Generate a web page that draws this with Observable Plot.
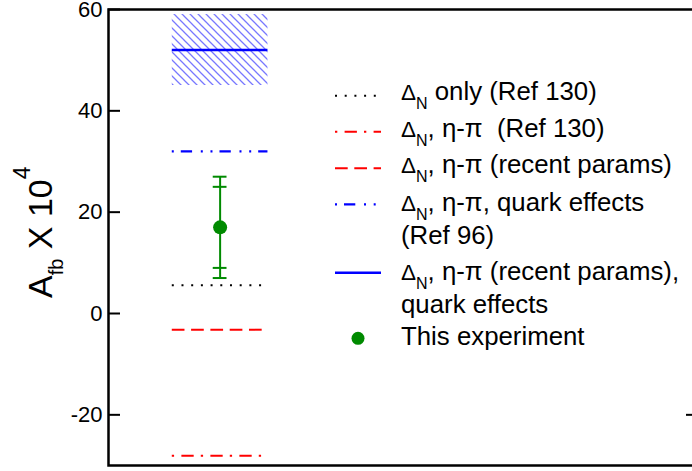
<!DOCTYPE html>
<html><head><meta charset="utf-8">
<script src="https://cdn.jsdelivr.net/npm/d3@7"></script>
<script src="https://cdn.jsdelivr.net/npm/@observablehq/plot@0.6"></script>
<style>
html,body{margin:0;padding:0;overflow:hidden;background:#fff;}
#chart{width:700px;height:471px;overflow:hidden}
#chart svg{display:block;overflow:visible;max-width:none !important;width:700px !important;height:471px !important}
</style></head><body><div id="chart"></div>
<script>
// ---- data ----
const yTicks = [-20, 0, 20, 40, 60];
const modelNames = ["ΔN only (Ref 130)", "ΔN, η-π (Ref 130)", "ΔN, η-π (recent params)", "ΔN, η-π, quark effects (Ref 96)", "ΔN, η-π (recent params), quark effects"];
const modelValues = [5.6, -28.1, -3.2, 32.0, 52.0];
const modelColors = ["#000000", "#ff0000", "#ff0000", "#0000ff", "#0000ff"];
const modelDashes = ["2 7.7", "2.3 7.3 12.3 7.1", "12.7 6.6", "2 7 11.3 8.7 2 7.7", null];
const modelWidths = [2, 2, 2, 2.3, 2.5];
const bandLow = 45, bandHigh = 59;          // hatched range around the last model
const expLabel = "This experiment";
const expValue = 17, expStat = 8, expTotal = 10;
const legendFirst = [" only (Ref 130)", ", η-π  (Ref 130)", ", η-π (recent params)", ", η-π, quark effects", ", η-π (recent params),"];
const legendSecond = [null, null, null, "(Ref 96)", "quark effects"];

const green = "#008a00";
const x0 = 1, hw = 0.5, cap = 0.072;
const W = 700, H = 471, mL = 108, mR = 2, mT = 9, mB = 6;
const plotW = W - mL - mR;
const font = "'Liberation Sans', Arial, Helvetica, sans-serif";
const lgSize = 25.8;

const plot = Plot.plot({
  width: W, height: H,
  marginLeft: mL, marginRight: mR, marginTop: mT, marginBottom: mB,
  x: {domain: [-1/6, 6], axis: null},
  y: {domain: [-30, 60], axis: null},
  style: {fontFamily: font, background: "white", color: "black"},
  marks: [
    Plot.rect([{lo: bandLow, hi: bandHigh}], {x1: x0 - hw, x2: x0 + hw, y1: "lo", y2: "hi", fill: "url(#hatch)"}),
    ...modelValues.map((v, i) => Plot.ruleY([v], {
      x1: x0 - hw, x2: x0 + hw, stroke: modelColors[i], strokeWidth: modelWidths[i],
      strokeDasharray: modelDashes[i]
    })),
    Plot.ruleX([x0], {y1: expValue - expTotal, y2: expValue + expTotal, stroke: green, strokeWidth: 2}),
    Plot.ruleY([expValue - expTotal, expValue - expStat, expValue + expStat, expValue + expTotal],
      {x1: x0 - cap, x2: x0 + cap, stroke: green, strokeWidth: 2}),
    Plot.dot([expValue], {x: d => x0, y: d => d, r: 7, fill: green}),
    Plot.frame({stroke: "black", strokeWidth: 2.5}),
    Plot.tickY(yTicks, {y: d => d, insetRight: plotW - 12, stroke: "black", strokeWidth: 2}),
    Plot.tickY([-20], {y: d => d, insetLeft: plotW - 12, stroke: "black", strokeWidth: 2}),
    Plot.axisY(yTicks, {tickSize: 0, tickPadding: 6, fontSize: 22, tickFormat: d => String(d)})
  ]
});

const svg = d3.select(plot);
const defs = svg.insert("defs", ":first-child");
const pat = defs.append("pattern").attr("id", "hatch")
  .attr("patternUnits", "userSpaceOnUse").attr("width", 8).attr("height", 8);
pat.append("path").attr("d", "M-2,-2L10,10M-2,6L2,10M6,-2L10,2")
  .attr("stroke", "#7878ff").attr("stroke-width", 1.3).attr("fill", "none");

// y-axis label
const yl = svg.append("text").attr("transform", "translate(52,298) rotate(-90)")
  .attr("font-family", font).attr("fill", "black").attr("text-anchor", "start");
yl.append("tspan").attr("font-size", 34).text("A");
yl.append("tspan").attr("font-size", 20).attr("dy", 11).text("fb");
yl.append("tspan").attr("font-size", 34).attr("dy", -11).text(" X 10");
yl.append("tspan").attr("font-size", 23).attr("dy", -22).text("4");

// legend
const sampleY = [95.7, 131.7, 168.3, 204.3, 272.7];
const baseY = [100, 136.7, 173.3, 211, 279.5];
const baseY2 = [null, null, null, 244, 312.5];
const lg = svg.append("g").attr("font-family", font).attr("fill", "black").attr("text-anchor", "start");
modelNames.forEach((name, i) => {
  const ln = lg.append("line").attr("x1", 335).attr("x2", 381)
    .attr("y1", sampleY[i]).attr("y2", sampleY[i])
    .attr("stroke", modelColors[i]).attr("stroke-width", modelWidths[i]);
  if (modelDashes[i]) ln.attr("stroke-dasharray", modelDashes[i]);
  const t = lg.append("text").attr("x", 401).attr("y", baseY[i]).style("white-space", "pre");
  t.append("tspan").attr("font-size", 22.5).text("Δ");
  t.append("tspan").attr("font-size", 16).attr("dy", 9).text("N");
  t.append("tspan").attr("font-size", lgSize).attr("dy", -9).text(legendFirst[i]);
  if (legendSecond[i]) {
    lg.append("text").attr("x", 401).attr("y", baseY2[i]).attr("font-size", lgSize).text(legendSecond[i]);
  }
});
lg.append("circle").attr("cx", 358).attr("cy", 338.3).attr("r", 6.5).attr("fill", green);
lg.append("text").attr("x", 401).attr("y", 345).attr("font-size", lgSize).text(expLabel);

document.getElementById("chart").appendChild(plot);
</script></body></html>
